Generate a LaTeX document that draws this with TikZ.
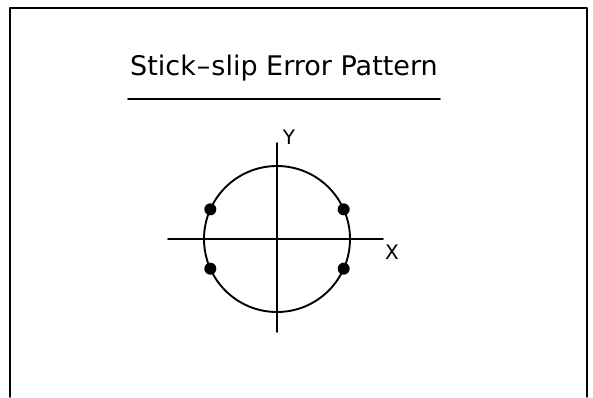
\documentclass[tikz,border=0pt]{standalone}
\usepackage{fontspec}
\setmainfont{DejaVu Sans}

\begin{document}
\begin{tikzpicture}[x=1pt, y=-1pt,
  pen/.style={line width=1.9pt, line cap=round, line join=round},
  axislabel/.style={font=\fontsize{20}{20}\selectfont, inner sep=0pt},
  stickdot/.style={fill=black, draw=none}]

\useasboundingbox (0,0) rectangle (593,397);

% --- Frame (open at the bottom) ---
\draw[pen] (10,397) -- (10,8) -- (587,8) -- (587,397);

% ============================================================
% Title and underline
% ============================================================
\node[font=\fontsize{27}{27}\selectfont, inner sep=0pt] (title) at (284,68)
  {Stick\kern1pt--\kern1pt slip\ Error\ Pattern};
\coordinate (ulL) at (128,99);
\coordinate (ulR) at (440,99);
\draw[pen] (ulL) -- (ulR);

% ============================================================
% Axes
% ============================================================
\coordinate (O) at (277,239);
\coordinate (xL) at (168,239);
\coordinate (xR) at (383,239);
\coordinate (yT) at (277,143);
\coordinate (yB) at (277,332);
\draw[pen] (xL) -- (xR);
\draw[pen] (yT) -- (yB);
\node[axislabel] (xlab) at (392,252) {X};
\node[axislabel] (ylab) at (289,137) {Y};

% ============================================================
% Error circle with stick-slip points
% ============================================================
\draw[pen] (O) circle (73);
\foreach \ang in {24,156,204,336}
  \fill[stickdot] (O) ++(\ang:73) circle (6);

\end{tikzpicture}
\end{document}
